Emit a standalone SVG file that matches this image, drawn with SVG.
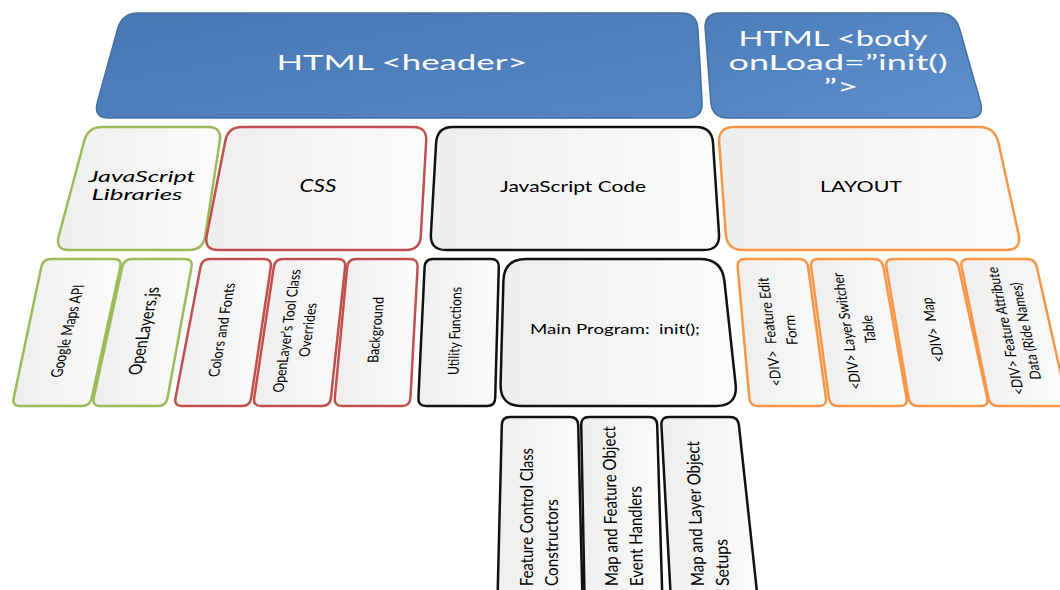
<svg xmlns="http://www.w3.org/2000/svg" width="1060" height="590" viewBox="0 0 1060 590">
  <style>
    .lbl { font-family: Lato, "Open Sans", "Liberation Sans", sans-serif; fill: #000; }
    .hd { fill: #fff; }
    .box { fill: url(#paper); stroke-width: 2.5; stroke-linejoin: round; }
    .g { stroke: #9BBB59; }
    .r { stroke: #C0504D; }
    .k { stroke: #111; }
    .o { stroke: #F79646; }
    .blue { stroke: #41719C; stroke-width: 1.5; }
  </style>
  <defs>
    <linearGradient id="paper" x1="0" y1="0" x2="1" y2="0">
      <stop offset="0" stop-color="#EEEEEE"/>
      <stop offset="1" stop-color="#FBFBFB"/>
    </linearGradient>
    <linearGradient id="blueFill" x1="0" y1="0" x2="1" y2="1">
      <stop offset="0" stop-color="#4777B3"/>
      <stop offset="1" stop-color="#5587C4"/>
    </linearGradient>
    <linearGradient id="blueFill2" x1="0" y1="0" x2="1" y2="1">
      <stop offset="0" stop-color="#4C7DBA"/>
      <stop offset="1" stop-color="#5E91CE"/>
    </linearGradient>
  </defs>

  <rect width="1060" height="590" fill="#fff"/>

  <!-- top row: HTML document parts -->
  <g id="header">
    <path class="blue" fill="url(#blueFill)" d="M 138,13 L 681,13 Q 697,13 697.9,29 L 702.1,102 Q 703,118 687,118 L 109,118 Q 93,118 97.4,102 L 117.6,29 Q 122,13 138,13 Z"/>
    <text class="lbl hd" x="402" y="70" font-size="21" text-anchor="middle" textLength="251" lengthAdjust="spacingAndGlyphs">HTML &lt;header&gt;</text>
  </g>
  <g id="body">
    <path class="blue" fill="url(#blueFill2)" d="M 720,13 L 939,13 Q 955,13 959.6,29 L 980.4,102 Q 985,118 969,118 L 728,118 Q 712,118 710.8,102 L 705.2,29 Q 704,13 720,13 Z"/>
    <text class="lbl hd" x="833" y="46" font-size="21" text-anchor="middle" textLength="189" lengthAdjust="spacingAndGlyphs">HTML &lt;body</text>
    <text class="lbl hd" x="838" y="70" font-size="21" text-anchor="middle" textLength="219" lengthAdjust="spacingAndGlyphs">onLoad=”init()</text>
    <text class="lbl hd" x="841" y="94" font-size="21" text-anchor="middle" textLength="35" lengthAdjust="spacingAndGlyphs">”&gt;</text>
  </g>

  <!-- second row: categories -->
  <g id="js-libraries">
    <path class="box g" d="M 102,127 L 208,127 Q 222,127 219.8,141 L 205.2,236 Q 203,250 189,250 L 69,250 Q 55,250 58.8,236 L 84.2,141 Q 88,127 102,127 Z"/>
    <text class="lbl" x="142" y="182" font-size="16" font-style="italic" text-anchor="middle" textLength="107" lengthAdjust="spacingAndGlyphs">JavaScript</text>
    <text class="lbl" x="137" y="200" font-size="16" font-style="italic" text-anchor="middle" textLength="91" lengthAdjust="spacingAndGlyphs">Libraries</text>
  </g>
  <g id="css">
    <path class="box r" d="M 242,127 L 413,127 Q 427,127 426.2,141 L 420.8,236 Q 420,250 406,250 L 218,250 Q 204,250 206.7,236 L 225.3,141 Q 228,127 242,127 Z"/>
    <text class="lbl" x="318" y="192" font-size="17" font-style="italic" text-anchor="middle" textLength="37" lengthAdjust="spacingAndGlyphs">CSS</text>
  </g>
  <g id="js-code">
    <path class="box k" d="M 453,127 L 696,127 Q 712,127 713,143 L 719,234 Q 720,250 704,250 L 446,250 Q 430,250 430.9,234 L 436.1,143 Q 437,127 453,127 Z"/>
    <text class="lbl" x="573" y="192" font-size="15" text-anchor="middle" textLength="146" lengthAdjust="spacingAndGlyphs">JavaScript Code</text>
  </g>
  <g id="layout">
    <path class="box o" d="M 734,127 L 979,127 Q 995,127 998.5,143 L 1018.5,234 Q 1022,250 1006,250 L 743,250 Q 727,250 725.8,234 L 719.2,143 Q 718,127 734,127 Z"/>
    <text class="lbl" x="861" y="192" font-size="16" text-anchor="middle" textLength="82" lengthAdjust="spacingAndGlyphs">LAYOUT</text>
  </g>

  <!-- third row: items -->
  <g id="google-maps-api">
    <path class="box g" d="M 51,259 L 114,259 Q 122,259 120.3,267 L 91.7,398 Q 90,406 82,406 L 20,406 Q 12,406 13.7,398 L 41.3,267 Q 43,259 51,259 Z"/>
    <g transform="translate(67,331) skewX(-14) rotate(-90)">
      <text class="lbl" x="0" y="6" font-size="16" text-anchor="middle" textLength="93" lengthAdjust="spacingAndGlyphs">Google Maps API</text>
    </g>
  </g>
  <g id="openlayers-js">
    <path class="box g" d="M 132,259 L 185,259 Q 193,259 191.5,267 L 167.5,398 Q 166,406 158,406 L 100,406 Q 92,406 93.7,398 L 122.3,267 Q 124,259 132,259 Z"/>
    <g transform="translate(144,331) skewX(-12) rotate(-90)">
      <text class="lbl" x="0" y="6" font-size="18" text-anchor="middle" textLength="88" lengthAdjust="spacingAndGlyphs">OpenLayers.js</text>
    </g>
  </g>
  <g id="colors-fonts">
    <path class="box r" d="M 210,259 L 264,259 Q 272,259 270.8,267 L 251.2,398 Q 250,406 242,406 L 182,406 Q 174,406 175.5,398 L 200.5,267 Q 202,259 210,259 Z"/>
    <g transform="translate(222,330) skewX(-10) rotate(-90)">
      <text class="lbl" x="0" y="5" font-size="15" text-anchor="middle" textLength="94" lengthAdjust="spacingAndGlyphs">Colors and Fonts</text>
    </g>
  </g>
  <g id="tool-overrides">
    <path class="box r" d="M 283,259 L 338,259 Q 346,259 345.1,267 L 330.9,398 Q 330,406 322,406 L 261,406 Q 253,406 254.2,398 L 273.8,267 Q 275,259 283,259 Z"/>
    <g transform="translate(287,331) skewX(-8) rotate(-90)">
      <text class="lbl" x="0" y="5" font-size="15" text-anchor="middle" textLength="123" lengthAdjust="spacingAndGlyphs">OpenLayer’s Tool Class</text>
    </g>
    <g transform="translate(308,330) skewX(-8) rotate(-90)">
      <text class="lbl" x="0" y="5" font-size="15" text-anchor="middle" textLength="54" lengthAdjust="spacingAndGlyphs">Overrides</text>
    </g>
  </g>
  <g id="background">
    <path class="box r" d="M 356,259 L 410,259 Q 418,259 417.6,267 L 410.4,398 Q 410,406 402,406 L 342,406 Q 334,406 334.8,398 L 347.2,267 Q 348,259 356,259 Z"/>
    <g transform="translate(376,330) skewX(-5) rotate(-90)">
      <text class="lbl" x="0" y="5" font-size="15" text-anchor="middle" textLength="66" lengthAdjust="spacingAndGlyphs">Background</text>
    </g>
  </g>
  <g id="utility-functions">
    <path class="box k" d="M 433,259 L 491,259 Q 499,259 498.8,267 L 495.2,398 Q 495,406 487,406 L 426,406 Q 418,406 418.4,398 L 424.6,267 Q 425,259 433,259 Z"/>
    <g transform="translate(455,331) skewX(-2) rotate(-90)">
      <text class="lbl" x="0" y="5" font-size="15" text-anchor="middle" textLength="88" lengthAdjust="spacingAndGlyphs">Utility Functions</text>
    </g>
  </g>
  <g id="main-program">
    <path class="box k" d="M 526,259 L 700,259 Q 722,259 724.4,281 L 735.6,384 Q 738,406 716,406 L 522,406 Q 500,406 500.6,384 L 503.4,281 Q 504,259 526,259 Z"/>
    <text class="lbl" x="615" y="334" font-size="14" text-anchor="middle" xml:space="preserve" textLength="170" lengthAdjust="spacingAndGlyphs">Main Program:  init();</text>
  </g>
  <g id="div-feature-edit">
    <path class="box o" d="M 745,259 L 799,259 Q 807,259 808.1,267 L 825.9,398 Q 827,406 819,406 L 758,406 Q 750,406 749.3,398 L 737.7,267 Q 737,259 745,259 Z"/>
    <g transform="translate(770,332) skewX(7) rotate(-90)">
      <text class="lbl" x="0" y="5" font-size="15" text-anchor="middle" xml:space="preserve" textLength="109" lengthAdjust="spacingAndGlyphs">&lt;DIV&gt;  Feature Edit</text>
    </g>
    <g transform="translate(791,330) skewX(7) rotate(-90)">
      <text class="lbl" x="0" y="5" font-size="15" text-anchor="middle" textLength="30" lengthAdjust="spacingAndGlyphs">Form</text>
    </g>
  </g>
  <g id="div-layer-switcher">
    <path class="box o" d="M 818,259 L 874,259 Q 882,259 883.4,267 L 906.6,398 Q 908,406 900,406 L 838,406 Q 830,406 828.9,398 L 811.1,267 Q 810,259 818,259 Z"/>
    <g transform="translate(847,331) skewX(9) rotate(-90)">
      <text class="lbl" x="0" y="5" font-size="15" text-anchor="middle" textLength="117" lengthAdjust="spacingAndGlyphs">&lt;DIV&gt; Layer Switcher</text>
    </g>
    <g transform="translate(869,329) skewX(9) rotate(-90)">
      <text class="lbl" x="0" y="5" font-size="15" text-anchor="middle" textLength="28" lengthAdjust="spacingAndGlyphs">Table</text>
    </g>
  </g>
  <g id="div-map">
    <path class="box o" d="M 893,259 L 949,259 Q 957,259 958.7,267 L 987.3,398 Q 989,406 981,406 L 918,406 Q 910,406 908.6,398 L 886.4,267 Q 885,259 893,259 Z"/>
    <g transform="translate(933,330) skewX(11) rotate(-90)">
      <text class="lbl" x="0" y="5" font-size="15" text-anchor="middle" xml:space="preserve" textLength="65" lengthAdjust="spacingAndGlyphs">&lt;DIV&gt;  Map</text>
    </g>
  </g>
  <g id="div-feature-attributes">
    <path class="box o" d="M 968,259 L 1027,259 Q 1035,259 1036.8,267 L 1066.2,398 Q 1068,406 1060,406 L 998,406 Q 990,406 988.4,398 L 961.6,267 Q 960,259 968,259 Z"/>
    <g transform="translate(1006,331) skewX(12) rotate(-90)">
      <text class="lbl" x="0" y="5" font-size="15" text-anchor="middle" textLength="128" lengthAdjust="spacingAndGlyphs">&lt;DIV&gt; Feature Attribute</text>
    </g>
    <g transform="translate(1026,331) skewX(12) rotate(-90)">
      <text class="lbl" x="0" y="5" font-size="15" text-anchor="middle" textLength="97" lengthAdjust="spacingAndGlyphs">Data (Ride Names)</text>
    </g>
  </g>

  <!-- fourth row: parts of the main program -->
  <g id="feature-control-constructors">
    <path class="box k" d="M 510,417 L 570,417 Q 578,417 578.2,425 L 583,620 L 497,620 L 501.8,425 Q 502,417 510,417 Z"/>
    <g transform="translate(527,586) rotate(-90)">
      <text class="lbl" x="0" y="6" font-size="18" textLength="138" lengthAdjust="spacingAndGlyphs">Feature Control Class</text>
    </g>
    <g transform="translate(552,586) rotate(-90)">
      <text class="lbl" x="0" y="6" font-size="18" textLength="87" lengthAdjust="spacingAndGlyphs">Constructors</text>
    </g>
  </g>
  <g id="event-handlers">
    <path class="box k" d="M 589,417 L 649,417 Q 657,417 657.2,425 L 663,620 L 585,620 L 581.2,425 Q 581,417 589,417 Z"/>
    <g transform="translate(612,586) skewX(1) rotate(-90)">
      <text class="lbl" x="0" y="6" font-size="18" textLength="160" lengthAdjust="spacingAndGlyphs">Map and Feature Object</text>
    </g>
    <g transform="translate(637,586) skewX(1) rotate(-90)">
      <text class="lbl" x="0" y="6" font-size="18" textLength="100" lengthAdjust="spacingAndGlyphs">Event Handlers</text>
    </g>
  </g>
  <g id="object-setups">
    <path class="box k" d="M 669,417 L 730,417 Q 738,417 738.9,425 L 760,620 L 672,620 L 661.4,425 Q 661,417 669,417 Z"/>
    <g transform="translate(698,586) skewX(2) rotate(-90)">
      <text class="lbl" x="0" y="6" font-size="18" textLength="145" lengthAdjust="spacingAndGlyphs">Map and Layer Object</text>
    </g>
    <g transform="translate(723,586) skewX(2) rotate(-90)">
      <text class="lbl" x="0" y="6" font-size="18" textLength="47" lengthAdjust="spacingAndGlyphs">Setups</text>
    </g>
  </g>
</svg>
